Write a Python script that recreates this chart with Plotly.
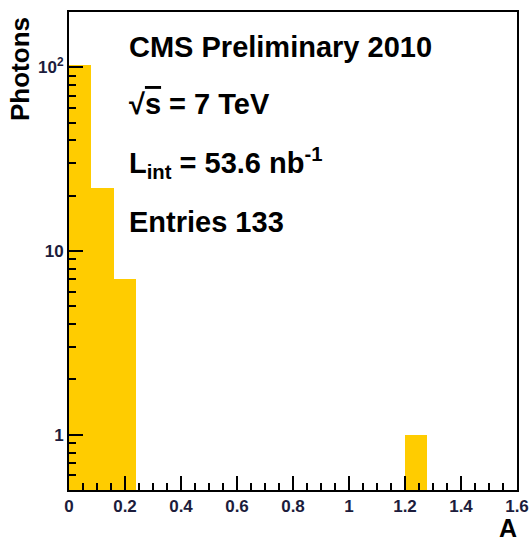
import plotly.graph_objects as go

# Histogram of A: bin edges (width 0.08) and photon counts per filled bin
bin_lo = [0.00, 0.08, 0.16, 1.20]
bin_hi = [0.08, 0.16, 0.24, 1.28]
counts = [103, 22, 7, 1]

x_ticks = [0, 0.2, 0.4, 0.6, 0.8, 1.0, 1.2, 1.4, 1.6]
x_tick_text = ["0", "0.2", "0.4", "0.6", "0.8", "1", "1.2", "1.4", "1.6"]
y_ticks = [1, 10, 100]
y_tick_text = ["1", "10", "10<sup>2</sup>"]
y_minor = [0.6, 0.7, 0.8, 0.9, 2, 3, 4, 5, 6, 7, 8, 9,
           20, 30, 40, 50, 60, 70, 80, 90, 200]

W, H = 530, 544
L, R, T, B = 69, 13, 12, 54
plot_h = H - T - B
plot_w = W - L - R

centers = [(a + b) / 2 for a, b in zip(bin_lo, bin_hi)]
widths = [b - a for a, b in zip(bin_lo, bin_hi)]

fig = go.Figure(go.Bar(
    x=centers, y=counts, width=widths,
    marker=dict(color="#FFCC00", line=dict(width=0)),
    hoverinfo="skip",
))

tick_font = dict(family="Liberation Sans, Arial", size=17, color="#1c1c3c", weight="bold")

fig.update_xaxes(
    range=[0, 1.6], tickmode="array", tickvals=x_ticks, ticktext=x_tick_text,
    ticks="inside", ticklen=14, tickwidth=2, tickcolor="black",
    minor=dict(dtick=0.05, tick0=0, ticks="inside", ticklen=7, tickwidth=2, tickcolor="black"),
    showline=True, linecolor="black", linewidth=2, mirror=True,
    showgrid=False, zeroline=False, tickfont=tick_font,
)
fig.update_yaxes(
    type="log", range=[-0.30103, 2.30103],
    tickmode="array", tickvals=y_ticks, ticktext=y_tick_text,
    ticks="inside", ticklen=14, tickwidth=2, tickcolor="black",
    minor=dict(tickmode="array", tickvals=y_minor, ticks="inside", ticklen=7,
               tickwidth=2, tickcolor="black"),
    showline=True, linecolor="black", linewidth=2, mirror=True,
    showgrid=False, zeroline=False, tickfont=tick_font,
)


def py(pix):
    """Convert a pixel row of the page into paper y."""
    return (H - B - pix) / plot_h


def px(pix):
    return (pix - L) / plot_w


label_font = dict(family="Liberation Sans, Arial", size=29, color="black", weight="bold")
lines = [
    ("CMS Preliminary 2010", 47),
    ("√<span style='text-decoration:overline'>s</span> = 7 TeV", 104),
    ("L<sub>int</sub> = 53.6 nb<sup>-1</sup>", 163),
    ("Entries 133", 222),
]
annotations = [
    dict(text=t, x=px(127), y=py(yc), xref="paper", yref="paper",
         xanchor="left", yanchor="middle", showarrow=False, font=label_font)
    for t, yc in lines
]
annotations.append(dict(
    text="Photons", x=px(20), y=py(69), xref="paper", yref="paper",
    xanchor="center", yanchor="middle", textangle=-90, showarrow=False,
    font=dict(family="Liberation Sans, Arial", size=26, color="black", weight="bold"),
))
annotations.append(dict(
    text="A", x=px(519), y=py(528), xref="paper", yref="paper",
    xanchor="right", yanchor="middle", showarrow=False,
    font=dict(family="Liberation Sans, Arial", size=25, color="black", weight="bold"),
))

fig.update_layout(
    width=W, height=H, autosize=False,
    margin=dict(l=L, r=R, t=T, b=B, autoexpand=False),
    paper_bgcolor="white", plot_bgcolor="white",
    bargap=0, showlegend=False,
    annotations=annotations,
)

fig.write_html("out.html")
